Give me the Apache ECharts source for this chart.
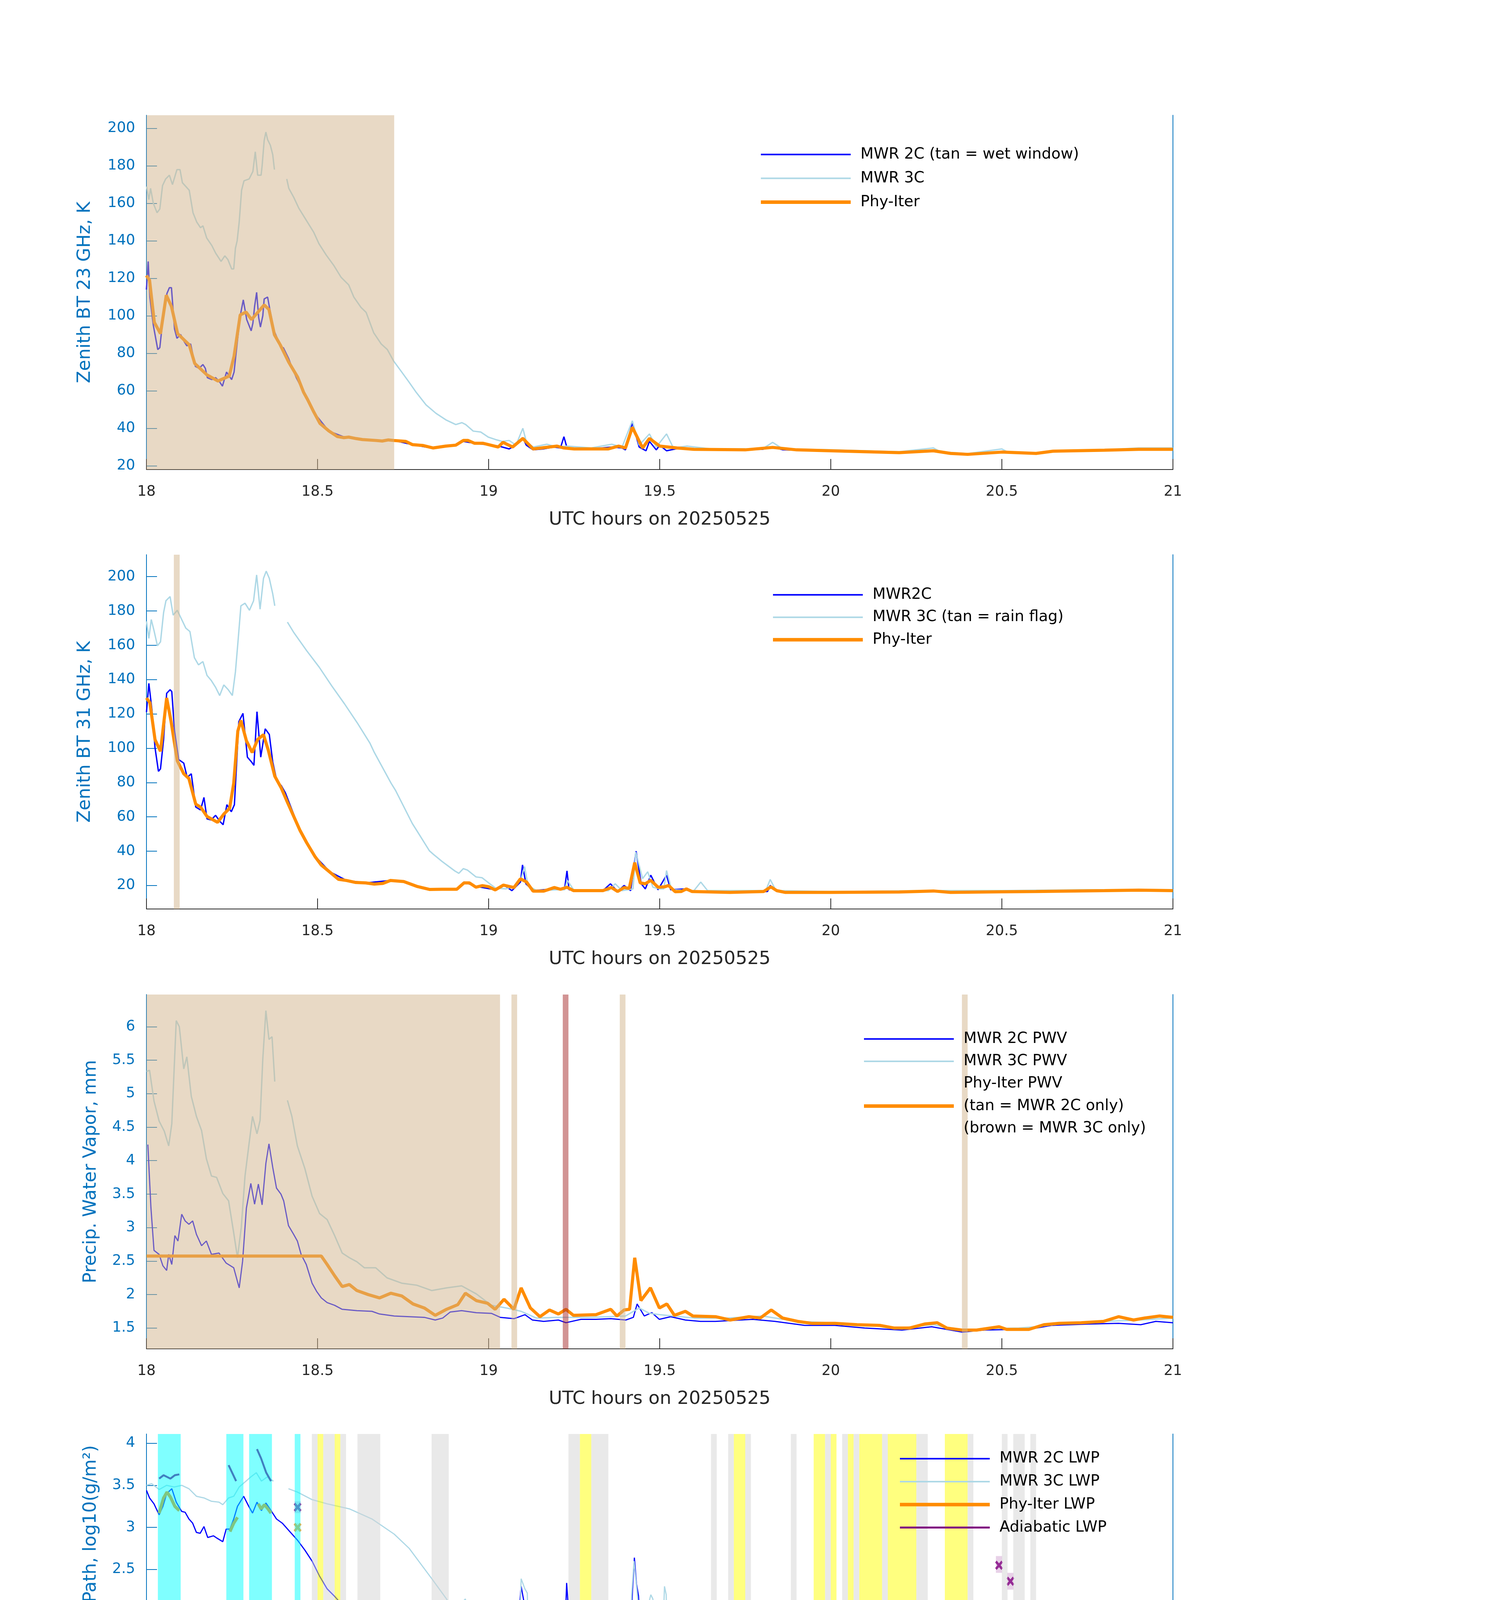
<!DOCTYPE html>
<html>
<head>
<meta charset="utf-8">
<script src="https://cdn.jsdelivr.net/npm/echarts@6/dist/echarts.min.js"></script>
<style>
  html, body { margin: 0; padding: 0; background: #fff; }
  #chart { width: 3825px; height: 6000px; }
</style>
</head>
<body>
<div id="chart"></div>
<script>
// ---- panel 1: zenith BT 23 GHz (hours, K) ----
const bt23_2c = [[18.000,114],[18.005,129],[18.010,110],[18.020,95],[18.033,82],[18.039,83],[18.049,100],[18.060,112],[18.067,115],[18.073,115],[18.082,93],[18.089,88],[18.100,90],[18.111,86],[18.118,84],[18.129,85],[18.143,73],[18.154,72],[18.165,74],[18.172,72],[18.178,67],[18.191,66],[18.202,67],[18.213,65],[18.222,62.5],[18.234,70],[18.249,66],[18.256,70],[18.263,82],[18.274,100],[18.283,108.5],[18.293,98],[18.306,92],[18.311,96],[18.316,105],[18.322,112.5],[18.328,99],[18.333,94],[18.340,100],[18.344,109],[18.354,110],[18.360,104],[18.373,92],[18.394,83],[18.400,83],[18.416,77],[18.424,73],[18.438,67],[18.459,59.5],[18.489,48.5],[18.533,38.5],[18.576,35.5],[18.631,34.3],[18.689,33.2],[18.723,33.5],[18.777,31.3],[18.838,29.3],[18.904,31],[18.926,33],[18.959,32],[19.006,31],[19.03,30.5],[19.06,29],[19.08,31],[19.10,35],[19.11,31],[19.13,28.5],[19.16,29],[19.19,30],[19.21,29.5],[19.22,35.5],[19.23,29],[19.30,29],[19.36,30],[19.39,29.5],[19.40,28.5],[19.42,43],[19.44,30],[19.46,28],[19.47,33],[19.49,28.5],[19.50,31],[19.52,28],[19.56,29.5],[19.60,28.8],[19.70,28.5],[19.80,28.8],[19.83,30],[19.86,28.5],[20.00,28],[20.10,27.5],[20.20,27],[20.30,27.8],[20.35,26.5],[20.40,26],[20.50,27],[20.60,26.5],[20.65,27.5],[20.80,28.2],[20.90,28.7],[21.00,28.7]];
const bt23_3c = [[18.000,169],[18.007,162],[18.012,168],[18.020,160],[18.031,155],[18.039,157],[18.047,169.5],[18.056,173],[18.067,175],[18.076,170],[18.089,178],[18.098,178],[18.105,171],[18.125,167],[18.136,155],[18.147,150],[18.158,147],[18.165,148],[18.176,141.5],[18.191,137.5],[18.202,133.5],[18.218,129],[18.229,132],[18.238,130],[18.249,125],[18.255,125],[18.260,136],[18.265,140],[18.271,150],[18.278,167],[18.285,172],[18.300,173],[18.311,177],[18.318,187.5],[18.325,175],[18.335,175],[18.338,180],[18.344,193.5],[18.349,198],[18.354,194],[18.362,191],[18.369,186],[18.374,178],[18.390,'-'],[18.410,173],[18.416,168],[18.431,163],[18.445,157.5],[18.467,151],[18.489,144.5],[18.504,138.5],[18.525,132.5],[18.547,127],[18.569,120.5],[18.591,116.5],[18.606,110],[18.627,104.5],[18.642,101.8],[18.664,91],[18.686,85],[18.704,82],[18.722,76],[18.744,70.5],[18.766,65],[18.787,59.5],[18.817,52.5],[18.846,48],[18.875,44.5],[18.904,42],[18.922,43],[18.933,42],[18.955,38.5],[18.977,38],[18.999,35.3],[19.02,34],[19.04,33],[19.06,33.5],[19.08,31],[19.10,40],[19.11,33],[19.13,30],[19.17,31.5],[19.20,30],[19.23,30.5],[19.30,29.5],[19.36,31.5],[19.39,30],[19.42,44],[19.44,31],[19.47,37],[19.49,30],[19.52,37],[19.54,29.5],[19.58,30.5],[19.65,29],[19.80,29],[19.83,32.5],[19.86,29],[20.00,28.5],[20.20,27.5],[20.30,29.5],[20.32,27.5],[20.40,26.5],[20.50,29],[20.52,27],[20.60,27],[20.70,28],[20.85,29],[20.90,29.5],[21.00,29.5]];
const bt23_phy = [[18.000,121.5],[18.009,119],[18.023,96.5],[18.041,90.5],[18.058,111],[18.073,105],[18.091,90.5],[18.125,84.5],[18.141,74.6],[18.176,68.6],[18.209,65.2],[18.242,67.9],[18.256,78.5],[18.274,100.5],[18.291,102],[18.307,98],[18.344,105.8],[18.358,103.4],[18.374,89.9],[18.391,84.5],[18.416,75.2],[18.442,67.2],[18.459,59.3],[18.471,55.3],[18.489,48.7],[18.507,42.6],[18.533,38.6],[18.558,35.6],[18.576,35],[18.591,35.3],[18.613,34.5],[18.631,34],[18.671,33.5],[18.689,33.2],[18.707,33.8],[18.723,33.5],[18.758,33],[18.777,31.3],[18.809,30.8],[18.838,29.5],[18.875,30.5],[18.904,31],[18.926,33.5],[18.940,33.5],[18.959,32],[18.984,32],[19.006,31],[19.028,30],[19.042,32.5],[19.07,30],[19.10,34.6],[19.13,29],[19.20,30.5],[19.22,29.5],[19.25,29],[19.35,29],[19.38,30.5],[19.40,29.5],[19.42,40.5],[19.45,29.5],[19.47,34.6],[19.50,30.5],[19.55,29.5],[19.60,28.8],[19.75,28.5],[19.83,29.8],[19.90,28.5],[20.00,28],[20.20,27],[20.30,28],[20.35,26.6],[20.40,26.1],[20.50,27.3],[20.60,26.6],[20.65,27.8],[20.80,28.3],[20.90,28.8],[21.00,28.8]];

// ---- panel 2: zenith BT 31 GHz (hours, K) ----
const bt31_2c = [[18.000,121],[18.007,137.8],[18.016,122.4],[18.025,100.3],[18.035,86.5],[18.041,88],[18.050,105],[18.059,132],[18.069,134.1],[18.074,133],[18.082,110],[18.094,93.4],[18.109,91.3],[18.119,83],[18.131,85.1],[18.144,65.7],[18.158,64],[18.168,71.3],[18.177,58.8],[18.189,58.2],[18.202,60.9],[18.214,57.5],[18.224,55.4],[18.235,67.1],[18.248,63],[18.257,67.1],[18.270,115.5],[18.282,120.3],[18.295,94.8],[18.307,92],[18.314,90],[18.323,121.3],[18.334,94.8],[18.347,111.3],[18.359,108],[18.369,92],[18.381,81],[18.394,78.2],[18.406,74],[18.418,67.8],[18.449,52],[18.493,37],[18.536,28],[18.585,22.9],[18.641,21.5],[18.713,22.9],[18.752,22.3],[18.790,19.5],[18.827,17.7],[18.907,18],[18.928,22],[18.963,19.5],[19.019,17.5],[19.043,20.5],[19.068,17],[19.093,22],[19.099,32],[19.109,21],[19.130,17],[19.192,18],[19.222,18],[19.229,28.5],[19.235,17.5],[19.334,17],[19.356,21],[19.377,16.5],[19.396,20],[19.415,17],[19.431,40],[19.446,21],[19.458,18],[19.474,26],[19.495,17.5],[19.520,26],[19.532,17.5],[19.578,18],[19.594,16.5],[19.705,16],[19.815,16.5],[19.823,20],[19.842,16.5],[19.913,16],[20.00,16],[20.30,16.5],[20.50,16.5],[20.75,17],[21.00,17.5]];
const bt31_3c = [[18.000,174],[18.007,164],[18.014,175],[18.022,168.6],[18.032,159.7],[18.041,162],[18.050,179],[18.057,186],[18.069,188.4],[18.078,177.6],[18.090,180.4],[18.103,175],[18.115,170],[18.127,168],[18.140,152.8],[18.152,148.6],[18.165,150.5],[18.177,142.4],[18.189,139.6],[18.202,135.5],[18.214,130.7],[18.226,136.9],[18.239,134.1],[18.251,130.7],[18.260,144.5],[18.267,161],[18.276,183],[18.288,184.5],[18.301,180.4],[18.313,185.9],[18.322,201],[18.332,181],[18.342,199],[18.350,203.2],[18.359,199],[18.369,190],[18.375,183],[18.390,'-'],[18.412,173.5],[18.431,167.3],[18.468,156.9],[18.505,147.2],[18.542,136.2],[18.579,125.8],[18.616,114.8],[18.653,103],[18.666,97.5],[18.715,79.6],[18.728,75.4],[18.777,56.1],[18.790,52],[18.827,40.2],[18.839,38.1],[18.864,34],[18.901,28.5],[18.913,27.1],[18.926,29.8],[18.938,29],[18.963,25],[18.981,24.5],[19.000,21.5],[19.020,18.5],[19.050,18],[19.080,20],[19.095,24],[19.105,31],[19.115,20],[19.140,17],[19.200,17.5],[19.222,17.5],[19.230,23],[19.250,17],[19.350,17],[19.370,21],[19.390,17],[19.422,18],[19.430,39.5],[19.450,24],[19.465,28],[19.480,19],[19.500,18],[19.512,18],[19.520,28.7],[19.535,17.5],[19.600,17],[19.620,22],[19.640,17],[19.810,17],[19.823,23.5],[19.840,17],[20.00,16.5],[20.30,17],[20.50,17],[20.75,17.5],[21.00,17.5]];
const bt31_phy = [[18.000,129.3],[18.010,126.5],[18.025,105],[18.041,98.2],[18.059,129.3],[18.072,115.5],[18.090,92.7],[18.109,85.1],[18.124,82.3],[18.144,67.4],[18.158,65.7],[18.177,60.2],[18.208,56.8],[18.226,61.6],[18.243,65],[18.255,79.6],[18.267,110],[18.276,116.2],[18.292,104.4],[18.309,97.5],[18.325,105.1],[18.342,107.9],[18.356,98.9],[18.375,83.7],[18.394,76.8],[18.412,68.5],[18.431,60],[18.449,52],[18.468,45],[18.493,36.7],[18.511,31.9],[18.536,27.8],[18.561,23.6],[18.585,22.9],[18.610,21.8],[18.641,21.5],[18.666,20.8],[18.691,21.2],[18.713,22.9],[18.752,22.3],[18.790,19.5],[18.827,17.7],[18.864,17.8],[18.907,17.8],[18.928,21.5],[18.944,21.5],[18.963,19],[18.981,19.9],[19.000,19.3],[19.019,17.4],[19.043,20.2],[19.074,18.8],[19.093,23.9],[19.111,22],[19.130,16.7],[19.161,16.7],[19.192,18.8],[19.210,17.8],[19.229,19],[19.248,17],[19.334,17],[19.359,18.8],[19.377,16.5],[19.396,18.8],[19.411,18.3],[19.427,33.3],[19.443,21.5],[19.458,21],[19.474,23],[19.495,19],[19.514,19.2],[19.526,20],[19.545,16.4],[19.563,16.5],[19.578,18],[19.594,16.5],[19.705,16],[19.804,16.5],[19.825,19.2],[19.842,17],[19.866,16],[19.913,16],[20.00,16],[20.20,16.2],[20.30,16.8],[20.35,16],[20.50,16.3],[20.60,16.5],[20.80,17],[20.90,17.3],[21.00,17]];

// ---- panel 3: precipitable water vapour (hours, mm) ----
const pwv_2c = [[18.004,4.24],[18.013,3.3],[18.022,2.66],[18.037,2.6],[18.048,2.43],[18.059,2.36],[18.065,2.6],[18.074,2.45],[18.083,2.88],[18.092,2.8],[18.103,3.2],[18.113,3.1],[18.124,3.05],[18.135,3.1],[18.146,2.9],[18.161,2.73],[18.175,2.8],[18.190,2.6],[18.212,2.62],[18.233,2.47],[18.255,2.4],[18.271,2.1],[18.281,2.5],[18.292,3.29],[18.305,3.66],[18.316,3.35],[18.327,3.65],[18.338,3.34],[18.349,3.96],[18.358,4.25],[18.369,3.9],[18.380,3.59],[18.393,3.5],[18.401,3.4],[18.415,3.03],[18.430,2.9],[18.441,2.8],[18.452,2.6],[18.467,2.45],[18.484,2.17],[18.497,2.05],[18.511,1.95],[18.528,1.88],[18.550,1.84],[18.572,1.78],[18.615,1.76],[18.659,1.75],[18.681,1.71],[18.724,1.68],[18.768,1.67],[18.812,1.66],[18.844,1.62],[18.866,1.65],[18.888,1.74],[18.921,1.76],[18.964,1.73],[19.008,1.72],[19.034,1.66],[19.074,1.64],[19.106,1.70],[19.128,1.62],[19.161,1.6],[19.204,1.62],[19.226,1.58],[19.270,1.63],[19.314,1.63],[19.357,1.64],[19.401,1.62],[19.423,1.66],[19.434,1.86],[19.455,1.68],[19.477,1.73],[19.499,1.63],[19.532,1.67],[19.575,1.62],[19.619,1.6],[19.663,1.6],[19.772,1.63],[19.837,1.6],[19.924,1.54],[20.012,1.54],[20.099,1.5],[20.208,1.47],[20.295,1.52],[20.383,1.44],[20.448,1.47],[20.535,1.48],[20.601,1.5],[20.645,1.54],[20.754,1.56],[20.841,1.57],[20.906,1.55],[20.950,1.6],[21.000,1.58]];
const pwv_3c = [[18.000,5.33],[18.009,5.35],[18.022,4.89],[18.037,4.59],[18.052,4.44],[18.065,4.22],[18.074,4.55],[18.087,6.09],[18.096,6.0],[18.109,5.37],[18.118,5.55],[18.131,4.96],[18.146,4.66],[18.161,4.45],[18.175,4.03],[18.190,3.77],[18.205,3.75],[18.223,3.51],[18.240,3.4],[18.255,2.92],[18.266,2.55],[18.277,3.0],[18.288,3.77],[18.299,4.22],[18.310,4.66],[18.323,4.4],[18.332,4.6],[18.340,5.52],[18.349,6.24],[18.358,5.81],[18.367,5.85],[18.375,5.18],[18.390,'-'],[18.412,4.9],[18.425,4.66],[18.441,4.22],[18.463,3.88],[18.484,3.47],[18.506,3.21],[18.528,3.12],[18.550,2.88],[18.572,2.62],[18.593,2.55],[18.615,2.49],[18.637,2.4],[18.670,2.4],[18.703,2.25],[18.746,2.17],[18.790,2.14],[18.834,2.06],[18.877,2.1],[18.921,2.13],[18.964,2.01],[19.008,1.84],[19.052,1.8],[19.095,1.75],[19.139,1.65],[19.20,1.66],[19.30,1.66],[19.40,1.68],[19.44,1.8],[19.47,1.72],[19.50,1.7],[19.60,1.65],[19.70,1.65],[19.80,1.68],[19.90,1.6],[20.00,1.58],[20.10,1.55],[20.20,1.5],[20.30,1.55],[20.38,1.46],[20.45,1.49],[20.55,1.5],[20.60,1.52],[20.70,1.58],[20.80,1.6],[20.90,1.62],[21.00,1.65]];
const pwv_phy = [[18.000,2.575],[18.511,2.575],[18.528,2.45],[18.550,2.28],[18.572,2.12],[18.593,2.15],[18.615,2.06],[18.648,2.0],[18.681,1.95],[18.714,2.02],[18.746,1.98],[18.779,1.86],[18.812,1.8],[18.844,1.69],[18.877,1.78],[18.910,1.85],[18.932,2.02],[18.964,1.91],[18.997,1.87],[19.019,1.78],[19.045,1.93],[19.074,1.78],[19.095,2.1],[19.122,1.8],[19.150,1.67],[19.178,1.77],[19.204,1.71],[19.226,1.78],[19.248,1.69],[19.314,1.7],[19.357,1.78],[19.375,1.68],[19.396,1.77],[19.412,1.78],[19.427,2.55],[19.445,1.91],[19.473,2.1],[19.499,1.8],[19.521,1.86],[19.543,1.69],[19.575,1.75],[19.597,1.68],[19.663,1.67],[19.706,1.62],[19.761,1.67],[19.794,1.65],[19.826,1.77],[19.859,1.65],[19.903,1.6],[19.946,1.57],[20.012,1.57],[20.077,1.55],[20.143,1.54],[20.186,1.5],[20.230,1.5],[20.274,1.56],[20.311,1.58],[20.339,1.5],[20.383,1.47],[20.426,1.47],[20.492,1.52],[20.514,1.48],[20.579,1.48],[20.623,1.55],[20.667,1.57],[20.732,1.58],[20.797,1.6],[20.841,1.67],[20.885,1.62],[20.917,1.65],[20.961,1.68],[21.000,1.66]];

// ---- panel 4: log10 liquid water path (hours, log10 g/m2) ----
const lwp_2c = [[18.000,3.44],[18.009,3.35],[18.022,3.28],[18.037,3.15],[18.048,3.25],[18.059,3.4],[18.074,3.46],[18.087,3.3],[18.103,3.19],[18.113,3.18],[18.124,3.1],[18.135,3.05],[18.146,2.94],[18.157,2.93],[18.168,3.01],[18.179,2.88],[18.196,2.9],[18.207,2.87],[18.223,2.83],[18.233,2.98],[18.244,2.98],[18.255,3.1],[18.266,3.25],[18.284,3.37],[18.299,3.25],[18.310,3.17],[18.323,3.3],[18.336,3.2],[18.349,3.29],[18.364,3.2],[18.380,3.1],[18.397,3.05],[18.419,2.95],[18.441,2.85],[18.463,2.73],[18.484,2.6],[18.506,2.42],[18.528,2.27],[18.550,2.18],[18.572,2.08],[18.593,2.1],[18.611,1.98],[18.626,1.95],[18.648,1.9],[18.670,1.86],[18.692,1.95],[18.707,2.05],[18.724,2.05],[18.742,2.09],[18.757,2.0],[18.772,1.86],[18.790,1.77],[18.801,1.65],[18.812,1.7],[18.823,1.52],[18.834,1.38],[18.844,1.42],[18.855,1.45],[18.866,1.53],[18.877,1.36],[18.888,1.18],[18.899,1.28],[18.910,1.2],[18.921,1.18],[18.927,1.9],[18.936,1.97],[18.945,1.9],[18.956,1.63],[18.967,1.7],[18.978,1.6],[18.986,1.98],[18.995,1.85],[19.006,1.35],[19.017,1.25],[19.026,1.1],[19.036,2.0],[19.045,1.75],[19.054,2.0],[19.065,1.4],[19.076,1.05],[19.087,1.9],[19.095,2.3],[19.104,2.1],
  [19.113,2.08],[19.119,1.63],[19.125,0.84],[19.132,0.91],[19.140,0.90],[19.145,0.77],[19.153,0.95],[19.158,1.01],[19.163,1.15],[19.169,1.18],[19.172,1.01],[19.177,1.64],[19.185,1.70],[19.190,1.87],[19.193,1.49],[19.200,1.82],[19.206,1.49],[19.210,1.56],[19.214,1.32],[19.222,1.63],[19.228,2.34],[19.232,2.10],[19.237,1.12],[19.243,1.39],[19.249,0.70],[19.255,1.07],[19.262,1.12],[19.268,1.12],[19.274,1.07],[19.280,0.87],[19.286,1.18],[19.292,1.12],[19.299,1.18],[19.305,1.01],[19.317,1.13],[19.330,1.12],[19.339,0.95],[19.348,1.51],[19.356,2.03],[19.361,1.54],[19.367,1.35],[19.373,0.98],[19.379,0.84],[19.385,1.07],[19.390,1.66],[19.395,1.95],[19.400,1.04],[19.408,1.04],[19.413,1.46],[19.420,2.22],[19.426,2.64],[19.432,2.33],[19.438,2.19],[19.445,1.63],[19.451,1.15],[19.457,1.23],[19.463,1.63],[19.469,2.13],[19.476,2.05],[19.482,2.09],[19.488,2.02],[19.492,1.35],[19.497,0.70],[19.503,1.35],[19.509,1.68],[19.515,2.02],[19.521,2.08],[19.528,1.15],[19.534,1.37],[19.540,1.12],[19.546,0.95],[19.552,1.21],[19.556,0.60],[19.561,1.18],[19.566,1.07],[19.571,1.35],[19.577,1.70],[19.583,1.21],[19.589,1.15],[19.596,1.09],[19.602,1.01],[19.608,0.92],[19.613,0.61],[19.618,0.29],[19.623,0.78],[19.629,1.15],[19.635,0.98],[19.641,0.87],[19.648,0.70],[19.654,1.09],[19.660,1.01],[19.666,1.04],[19.672,1.04],[19.676,1.01],[19.682,0.60],[19.688,0.64],[19.695,0.98],[19.701,1.11],[19.707,0.78],[19.713,1.04],[19.719,0.98],[19.726,0.85],[19.732,0.98],[19.738,1.00],[19.744,1.00],[19.750,0.92],[19.757,0.84],[19.763,0.92],[19.769,1.12],[19.774,1.18],[19.779,1.01],[19.784,1.00],[19.791,1.12],[19.797,1.18],[19.804,1.23],[19.810,1.32],[19.816,1.63],[19.822,2.10],[19.828,1.57],[19.835,1.23],[19.841,1.26],[19.846,1.16],[19.852,1.05],[19.856,1.08],[19.862,0.92],[19.868,1.12],[19.873,0.98],[19.878,0.60],[19.883,0.90],[19.889,0.90],[19.895,1.01],[19.901,1.07],[19.908,1.12],[19.915,1.18],[19.922,1.30],[19.927,1.04],[19.934,1.08],[19.940,0.95],[19.946,1.04],[19.952,0.95],[19.958,1.08],[19.967,1.09],[19.974,0.95],[19.979,0.78],[19.986,0.78],[19.992,0.92],[19.998,1.01],[20.004,0.97],[20.012,1.07],[20.016,1.32],[20.021,1.08],[20.026,1.23],[20.031,1.07],[20.036,1.12],[20.041,1.01],[20.047,1.01],[20.054,1.01],[20.060,1.12],[20.066,0.95],[20.072,0.81],[20.078,0.90],[20.085,0.78],[20.091,0.90],[20.097,0.84],[20.103,0.92],[20.109,0.84],[20.115,0.90],[20.122,1.01],[20.128,0.70],[20.134,1.01],[20.140,0.84],[20.146,0.95],[20.153,0.78],[20.158,0.60],[20.162,0.95],[20.167,0.84],[20.172,1.04],[20.177,1.12],[20.184,1.04],[20.190,1.11],[20.196,1.00],[20.202,1.01],[20.208,0.92],[20.215,1.09],[20.221,0.98],[20.227,1.12],[20.233,1.01],[20.239,0.92],[20.245,0.84],[20.252,1.04],[20.258,1.12],[20.264,1.08],[20.270,1.09],[20.276,1.01],[20.283,1.11],[20.289,1.15],[20.295,1.08],[20.301,1.40],[20.305,1.73],[20.310,1.46],[20.316,1.07],[20.322,0.95],[20.328,0.92],[20.335,0.90],[20.338,1.07],[20.344,0.95],[20.351,0.70],[20.357,1.04],[20.363,0.78],[20.369,0.92],[20.375,0.98],[20.382,0.90],[20.388,0.70],[20.393,0.47],[20.400,0.90],[20.406,0.84],[20.412,0.84],[20.419,0.90],[20.425,1.01],[20.431,0.84],[20.437,0.84],[20.443,1.21],[20.448,1.46],[20.455,1.50],[20.460,1.04],[20.466,0.84],[20.472,0.84],[20.478,1.07],[20.484,1.26],[20.489,1.51],[20.493,1.75],[20.498,1.51],[20.503,1.01],[20.508,0.78],[20.514,1.01],[20.520,1.12],[20.526,1.26],[20.533,0.98],[20.539,0.95],[20.545,1.07],[20.550,1.18],[20.556,0.98],[20.563,0.95],[20.571,1.01],[20.580,1.04],[20.586,0.98],[20.592,0.90],[20.598,0.92],[20.604,0.84],[20.610,0.84],[20.617,0.98],[20.623,1.04],[20.629,0.92],[20.635,1.04],[20.644,1.30],[20.651,1.12],[20.658,0.92],[20.664,0.47],[20.670,0.95],[20.676,0.92],[20.682,0.84],[20.689,1.09],[20.695,0.98],[20.701,1.12],[20.707,0.84],[20.713,1.04],[20.719,1.01],[20.726,0.95],[20.732,1.12],[20.738,0.92],[20.744,0.70],[20.750,0.98],[20.757,1.04],[20.763,1.01],[20.769,1.12],[20.775,1.04],[20.781,1.07],[20.788,1.01],[20.794,1.09],[20.801,1.23],[20.807,1.21],[20.812,1.15],[20.818,1.09],[20.825,1.04],[20.831,1.07],[20.837,1.23],[20.843,1.37],[20.849,1.35],[20.856,1.23],[20.862,1.21],[20.868,0.90],[20.874,0.92],[20.880,0.95],[20.886,0.95],[20.893,1.07],[20.898,1.23],[20.904,1.12],[20.910,0.92],[20.915,0.92],[20.920,1.26],[20.925,1.43],[20.930,1.01],[20.936,1.01],[20.942,1.12],[20.948,1.37],[20.955,1.49],[20.961,1.59],[20.967,1.43],[20.973,1.51],[20.979,1.35],[20.986,1.35],[20.992,1.37],[20.998,1.39],[21.000,1.21]];
const lwp_3c = [[18.000,3.5],[18.015,3.52],[18.037,3.45],[18.059,3.5],[18.081,3.48],[18.103,3.5],[18.124,3.46],[18.146,3.37],[18.168,3.35],[18.190,3.31],[18.212,3.3],[18.223,3.27],[18.240,3.35],[18.255,3.37],[18.271,3.48],[18.288,3.54],[18.305,3.6],[18.321,3.65],[18.336,3.55],[18.353,3.6],[18.371,3.55],[18.380,'-'],[18.415,3.46],[18.441,3.42],[18.484,3.33],[18.528,3.28],[18.593,3.22],[18.659,3.1],[18.724,2.92],[18.768,2.75],[18.801,2.57],[18.834,2.39],[18.877,2.15],[18.910,1.89],[18.921,2.1],[18.932,2.15],[18.943,1.92],[18.954,1.83],[18.965,1.62],[18.975,1.98],[18.986,1.89],[18.997,1.59],[19.008,1.15],[19.019,1.09],[19.030,0.67],[19.041,0],[19.074,0],[19.084,0.8],[19.095,2.39],[19.106,2.27],
  [19.113,2.22],[19.119,1.2],[19.125,0.1],[19.130,0],[19.136,0.05],[19.140,0],[19.147,0.2],[19.153,0.36],[19.160,0.81],[19.165,0.1],[19.170,0],[19.175,1.4],[19.181,1.68],[19.187,1.5],[19.192,1.0],[19.197,1.85],[19.202,1.4],[19.207,1.0],[19.212,1.05],[19.217,1.7],[19.224,2.05],[19.230,1.6],[19.234,0.8],[19.239,0.5],[19.244,0.2],[19.249,0.5],[19.254,0.55],[19.259,0.2],[19.264,0.55],[19.269,0.45],[19.274,0.1],[19.279,0.5],[19.285,0.7],[19.290,0.3],[19.296,0.6],[19.302,0.2],[19.308,0.45],[19.314,0.1],[19.320,0.5],[19.326,0.8],[19.332,0.3],[19.338,0.6],[19.344,1.2],[19.352,1.87],[19.358,1.4],[19.363,0.6],[19.368,0.3],[19.373,0.64],[19.379,1.0],[19.384,0.5],[19.389,1.2],[19.395,1.6],[19.400,0.9],[19.406,0.6],[19.412,1.3],[19.418,2.2],[19.425,2.6],[19.431,2.35],[19.437,2.1],[19.443,1.4],[19.449,0.85],[19.455,1.2],[19.462,1.8],[19.468,2.1],[19.474,2.2],[19.480,2.15],[19.486,1.9],[19.491,1.0],[19.496,0.6],[19.502,1.0],[19.508,1.6],[19.514,2.3],[19.519,2.2],[19.526,0.9],[19.532,0.5],[19.538,0.1],[19.544,0.7],[19.550,0.4],[19.555,0.1],[19.561,0.9],[19.567,1.1],[19.572,1.6],[19.577,1.85],[19.582,0.9],[19.588,0.6],[19.594,0.2],[19.600,0.4],[19.606,0],[19.611,0.5],[19.616,0.1],[19.621,1.1],[19.627,0.6],[19.633,0.3],[19.639,0.8],[19.645,0.1],[19.650,0],[19.656,0.6],[19.662,0.35],[19.668,0.7],[19.674,0.2],[19.680,0.5],[19.686,0.1],[19.692,0.8],[19.698,0.4],[19.704,0.1],[19.710,0.3],[19.716,0.05],[19.722,0.35],[19.728,0.1],[19.734,0.3],[19.740,0.05],[19.746,0.4],[19.752,0.15],[19.758,0.7],[19.764,0.3],[19.770,0.55],[19.776,0.9],[19.782,0.4],[19.788,0.7],[19.794,1.0],[19.800,0.6],[19.806,0.9],[19.812,1.3],[19.818,1.75],[19.822,2.05],[19.828,1.7],[19.834,0.8],[19.840,0.5],[19.846,0.2],[19.852,0.6],[19.858,0.15],[19.864,0.5],[19.870,0.1],[19.876,0.7],[19.882,0.3],[19.888,0.05],[19.894,0.5],[19.900,0.2],[19.906,0.7],[19.912,0.3],[19.918,0.87],[19.924,0.4],[19.928,0],[19.946,0],[19.950,0.4],[19.956,0.1],[19.962,0.6],[19.968,0.2],[19.974,0.5],[19.980,0.1],[19.986,0.35],[19.992,0.6],[19.998,0.2],[20.004,0.5],[20.010,0.9],[20.016,1.0],[20.022,0.4],[20.028,0.1],[20.034,0.6],[20.040,0.25],[20.046,0.8],[20.052,1.8],[20.058,1.0],[20.064,0.4],[20.070,0.1],[20.076,0.5],[20.082,0.2],[20.088,0.05],[20.094,0.55],[20.100,0.15],[20.106,0.45],[20.112,0.05],[20.118,0.6],[20.124,0.2],[20.130,0.4],[20.136,1.0],[20.142,0.3],[20.148,0.1],[20.154,0.5],[20.160,0.15],[20.166,0.6],[20.172,0.3],[20.178,0.9],[20.184,1.3],[20.190,1.85],[20.196,1.5],[20.202,0.6],[20.208,0.2],[20.214,0.6],[20.220,0.1],[20.226,0.5],[20.232,0.15],[20.238,0.7],[20.244,0.3],[20.250,0.45],[20.256,0.1],[20.262,0.6],[20.268,0.2],[20.274,0.5],[20.280,0.8],[20.286,0.3],[20.292,0.2],[20.298,1.2],[20.303,1.6],[20.308,1.3],[20.313,0.5],[20.318,0],[20.374,0],[20.380,0.3],[20.388,0],[20.425,0],[20.432,0.4],[20.437,0.9],[20.443,1.23],[20.449,1.0],[20.455,0.4],[20.461,0.1],[20.467,0.5],[20.473,0.2],[20.479,0.8],[20.484,1.0],[20.489,1.45],[20.494,1.2],[20.500,0.3],[20.506,0.1],[20.512,0.6],[20.518,0.2],[20.524,0.05],[20.530,0.5],[20.536,0.8],[20.542,0.2],[20.548,0.05],[20.554,0.4],[20.560,0.1],[20.566,0.6],[20.572,0.2],[20.578,0.8],[20.584,0.3],[20.590,0.05],[20.596,0.5],[20.602,0.1],[20.608,0.4],[20.614,0.05],[20.620,0.3],[20.626,0.1],[20.632,0.6],[20.638,0.2],[20.644,0.7],[20.650,1.2],[20.656,0.8],[20.662,0.3],[20.668,0.7],[20.674,0.4],[20.680,0.9],[20.686,0.5],[20.692,1.0],[20.698,0.6],[20.704,0.3],[20.710,0.9],[20.716,0.5],[20.722,1.1],[20.728,0.7],[20.734,0.4],[20.740,1.0],[20.746,0.6],[20.752,0.9],[20.758,1.2],[20.764,0.7],[20.770,1.0],[20.776,0.5],[20.782,0.8],[20.788,1.1],[20.794,0.6],[20.800,0.9],[20.806,1.2],[20.812,0.8],[20.818,0.4],[20.824,1.0],[20.830,1.3],[20.837,1.57],[20.842,1.2],[20.848,0.9],[20.854,0.5],[20.860,1.0],[20.866,0.7],[20.872,0.3],[20.878,0.8],[20.884,0.5],[20.890,0.9],[20.896,0.6],[20.902,1.0],[20.908,0.7],[20.914,0.4],[20.920,0.9],[20.926,1.1],[20.932,1.2],[20.938,0.9],[20.944,1.3],[20.950,1.0],[20.956,1.2],[20.962,1.35],[20.968,1.1],[20.974,1.25],[20.980,1.3],[20.986,1.0],[20.992,1.2],[20.996,0.9],[21.000,0.56]];
const lwp_phy_line = [[18.037,3.17],[18.050,3.35],[18.060,3.42],[18.070,3.36],[18.083,3.25],[18.096,3.2],[18.100,'-'],[18.244,2.95],[18.255,3.05],[18.266,3.12],[18.280,'-'],[18.327,3.28],[18.335,3.22],[18.345,3.27],[18.355,3.22],[18.364,3.17]];
const lwp_phy_pts = [[18.4417,3.0],[20.4917,1.37],[20.525,0.66]];
const lwp_adi_line = [[18.037,3.58],[18.050,3.62],[18.060,3.6],[18.070,3.58],[18.083,3.62],[18.096,3.63],[18.100,'-'],[18.240,3.74],[18.262,3.55],[18.270,'-'],[18.323,3.93],[18.335,3.82],[18.350,3.65],[18.364,3.55]];
const lwp_adi_pts = [[18.4417,3.24],[20.4917,2.55],[20.525,2.36]];
// uncertainty ranges drawn as pale bars: [hour, low, high]
const lwp_phy_err = [[18.4417,2.95,3.05],[20.4917,1.09,1.54],[20.525,-0.13,0.70]];
const lwp_adi_err = [[18.4417,3.17,3.31],[20.4917,2.46,2.66],[20.525,2.26,2.46]];

// ---- panel 5: DQ flag, minute index k after 18:00 (plotted at k + 0.5 min) ----
const flag0 = [35,36,41,42,43,44,45,46,47,48,49,53,54,55,56,57,58,59,60,61,62,63,64,65,66,67,68,69,70,71,72,73,81,82,83,84,86,87,88,89,90,91,92,93,94,95,96,97,98,100,101,106,107,108,109,110,111,112,114,115,116,121,137,138,139,145,146,147,148,149,151,154,156,157,158,159,160,161,162,163,164,165,166,167,168,169,170,171,172,173,174,175,176,177,178,179,180];
const flag3 = [34,80,135,136,144,155];
const flag4 = [29,31,32,37,38,39,40,50,51,52,74,75,78,79,99,102,105,113,119,122,124,129,150,152,153];
const flag5 = [30,33,76,77,103,104,117,118,120,123,125,126,127,128,130,131,132,133,134,140,141,142,143];
const flag6 = [0,1,2,3,4,5,6,7,8,9,10,11,12,13,14,15,16,17,18,19,20,21,22,23,24,25,26,27,28,29,30];
const flag7 = [0,1,2,3,4,5,6,7,8,9,10,11,12,13,14,15,16,17,18,19,20,21,22,23,24,25,26,27,28,29,30,31,85];
const flag9 = [3,4,5,15,16,18,19,20];
const flag10 = [4,5,15,16,18,20,21];
const flag11 = [2,3,4,5,14,15,19,20,21,26];

// ---- shaded windows (hours) ----
const p1Tan = [[18.0, 18.724]];
const p2Tan = [[18.080, 18.097]];
const p3Tan = [[18.0, 19.0333], [19.0667, 19.0833], [19.3833, 19.4], [20.3833, 20.4]];
const p3Brown = [[19.2167, 19.2333]];

// ---- axis ticks ----
const yTicks1 = [20, 40, 60, 80, 100, 120, 140, 160, 180, 200];
const yTicks3 = [1.5, 2, 2.5, 3, 3.5, 4, 4.5, 5, 5.5, 6];
const yTicks4 = [0, 0.5, 1, 1.5, 2, 2.5, 3, 3.5, 4];
const yTicks5 = [0, 2, 4, 6, 8, 10];

const FONT = 'DejaVu Sans';
const AX_BLUE = '#0072BD';
const DARK = '#262626';
const C_2C = '#0000FF', C_3C = '#ADD8E6', C_PHY = '#FF8C00', C_ADI = '#800080';
const TAN = 'rgba(210,180,140,0.5)';
const tops = [295, 1420, 2546, 3671, 4796];
const H = 907;

// flag bands for the LWP panel: cyan = 9/10/11, yellow = 5, grey = 3/4
const cyanSet = new Set([...flag9, ...flag10, ...flag11]);
const yellowSet = new Set(flag5);
const greySet = new Set([...flag3, ...flag4]);
function bandsOf(test) {
  const spans = [];
  let start = null;
  for (let k = 0; k <= 181; k++) {
    const on = k <= 180 && test(k);
    if (on && start === null) start = k;
    if (!on && start !== null) { spans.push([18 + start / 60, 18 + k / 60]); start = null; }
  }
  return spans;
}
const p4Cyan = bandsOf(k => cyanSet.has(k));
const p4Yellow = bandsOf(k => !cyanSet.has(k) && yellowSet.has(k));
const p4Grey = bandsOf(k => !cyanSet.has(k) && !yellowSet.has(k) && greySet.has(k));

function xAxisFor(i) {
  return {
    gridIndex: i, type: 'value', min: 18, max: 21, interval: 0.5,
    name: 'UTC hours on 20250525', nameLocation: 'middle', nameGap: 105,
    nameTextStyle: { fontSize: 47, color: DARK, fontFamily: FONT },
    axisLine: { onZero: false, lineStyle: { color: DARK, width: 2 } },
    axisTick: { inside: true, length: 27, lineStyle: { color: DARK, width: 2 } },
    axisLabel: { fontSize: 37, color: DARK, margin: 39, fontFamily: FONT },
    splitLine: { show: false }
  };
}
function yAxisFor(i, min, max, ticks, name, gap) {
  return {
    gridIndex: i, type: 'value', min: min, max: max, position: 'left',
    name: name, nameLocation: 'middle', nameGap: gap, nameRotate: 90,
    nameTextStyle: { fontSize: 46, color: AX_BLUE, fontFamily: FONT },
    axisLine: { show: true, onZero: false, lineStyle: { color: AX_BLUE, width: 2 } },
    axisTick: { show: true, inside: true, length: 27, customValues: ticks, lineStyle: { color: AX_BLUE, width: 2 } },
    axisLabel: { customValues: ticks, fontSize: 37, color: AX_BLUE, margin: 29, fontFamily: FONT },
    splitLine: { show: false }
  };
}
function rightAxisFor(i, min, max) {
  return {
    gridIndex: i, type: 'value', min: min, max: max, position: 'right',
    axisLine: { show: true, onZero: false, lineStyle: { color: AX_BLUE, width: 2 } },
    axisTick: { show: false }, axisLabel: { show: false }, splitLine: { show: false }
  };
}
function line(name, i, data, color, width) {
  return {
    name: name, type: 'line', xAxisIndex: i, yAxisIndex: 2 * i, data: data,
    symbol: 'none', showSymbol: false, connectNulls: false,
    lineStyle: { color: color, width: width }, itemStyle: { color: color },
    z: 2, silent: true
  };
}
function shade(i, spans, color) {
  return {
    type: 'line', xAxisIndex: i, yAxisIndex: 2 * i, data: [], z: 5, silent: true,
    markArea: { silent: true, z: 10, itemStyle: { color: color }, data: spans.map(s => [{ xAxis: s[0] }, { xAxis: s[1] }]) }
  };
}
function errBars(i, bars, color) {
  const data = [];
  bars.forEach(b => { data.push([b[0], b[1]], [b[0], b[2]], [b[0], '-']); });
  return {
    type: 'line', xAxisIndex: i, yAxisIndex: 2 * i, data: data, symbol: 'none',
    lineStyle: { color: color, width: 16, cap: 'butt' }, z: 3, silent: true
  };
}
const X_PATH = 'path://M2,0 L5,3 L8,0 L10,2 L7,5 L10,8 L8,10 L5,7 L2,10 L0,8 L3,5 L0,2 Z';
function marks(name, i, data, color) {
  return {
    name: name, type: 'scatter', xAxisIndex: i, yAxisIndex: 2 * i, data: data,
    symbol: X_PATH, symbolSize: [20, 24], itemStyle: { color: color }, z: 4, silent: true
  };
}
// legend key: a flat bar of the given thickness centred in a 230 x 20 box
function keyIcon(t) {
  const a = 10 - t / 2, b = 10 + t / 2;
  return 'path://M0,0 L0.01,0 L0,0.01 Z M0,' + a + ' L230,' + a + ' L230,' + b + ' L0,' + b +
    ' Z M230,20 L229.99,20 L230,19.99 Z';
}
function legendAt(left, top, items, lh) {
  return {
    data: items.map(it => ({ name: it[0], icon: keyIcon(it[1]) })),
    orient: 'vertical', left: left, top: top,
    itemWidth: 230, itemHeight: 20, itemGap: 0, selectedMode: false, z: 20,
    textStyle: { fontSize: 39, fontFamily: FONT, color: '#000', lineHeight: lh, padding: [0, 0, 0, 20] }
  };
}

const flagPts = [];
[[0, flag0], [3, flag3], [4, flag4], [5, flag5], [6, flag6], [7, flag7], [9, flag9], [10, flag10], [11, flag11]]
  .forEach(([v, ks]) => ks.forEach(k => flagPts.push([18 + (k + 0.5) / 60, v])));

const P3_PHY = 'Phy-Iter PWV\n(tan = MWR 2C only)\n(brown = MWR 3C only)';

const option = {
  animation: false,
  backgroundColor: '#fff',
  textStyle: { fontFamily: FONT },
  grid: tops.map(t => ({ left: 375, width: 2628, top: t, height: H, containLabel: false })),
  xAxis: [0, 1, 2, 3, 4].map(xAxisFor),
  yAxis: [
    yAxisFor(0, 18, 207, yTicks1, 'Zenith BT 23 GHz, K', 134), rightAxisFor(0, 18, 207),
    yAxisFor(1, 6.3, 212.8, yTicks1, 'Zenith BT 31 GHz, K', 134), rightAxisFor(1, 6.3, 212.8),
    yAxisFor(2, 1.19, 6.48, yTicks3, 'Precip. Water Vapor, mm', 119), rightAxisFor(2, 1.19, 6.48),
    yAxisFor(3, -0.1, 4.11, yTicks4, 'log10 Liquid Water Path, log10(g/m²)', 119), rightAxisFor(3, -0.1, 4.11),
    yAxisFor(4, -0.5, 11.5, yTicks5, 'MWR Phy Iter DQ Flag', 107), rightAxisFor(4, -0.5, 11.5)
  ],
  legend: [
    legendAt(1943, 360, [['MWR 2C (tan = wet window)', 4], ['MWR 3C', 4], ['Phy-Iter', 9]], 61),
    legendAt(1974, 1489, [['MWR2C', 4], ['MWR 3C (tan = rain flag)', 4], ['Phy-Iter', 9]], 57.5),
    legendAt(2207, 2626, [['MWR 2C PWV', 4], ['MWR 3C PWV', 4], [P3_PHY, 9]], 57.3),
    legendAt(2299, 3700, [['MWR 2C LWP', 4], ['MWR 3C LWP', 4], ['Phy-Iter LWP', 9], ['Adiabatic LWP', 5]], 58.7)
  ],
  series: [
    line('MWR 2C (tan = wet window)', 0, bt23_2c, C_2C, 3.5),
    line('MWR 3C', 0, bt23_3c, C_3C, 3.5),
    line('Phy-Iter', 0, bt23_phy, C_PHY, 8),
    shade(0, p1Tan, TAN),

    line('MWR2C', 1, bt31_2c, C_2C, 3.5),
    line('MWR 3C (tan = rain flag)', 1, bt31_3c, C_3C, 3.5),
    line('Phy-Iter', 1, bt31_phy, C_PHY, 8),
    shade(1, p2Tan, TAN),

    line('MWR 2C PWV', 2, pwv_2c, C_2C, 3),
    line('MWR 3C PWV', 2, pwv_3c, C_3C, 3.5),
    line(P3_PHY, 2, pwv_phy, C_PHY, 8),
    shade(2, p3Tan, TAN),
    shade(2, p3Brown, 'rgba(165,42,42,0.5)'),

    line('MWR 2C LWP', 3, lwp_2c, C_2C, 3),
    line('MWR 3C LWP', 3, lwp_3c, C_3C, 3),
    line('Phy-Iter LWP', 3, lwp_phy_line, C_PHY, 8),
    line('Adiabatic LWP', 3, lwp_adi_line, C_ADI, 5),
    errBars(3, lwp_phy_err, 'rgba(255,140,0,0.18)'),
    errBars(3, lwp_adi_err, 'rgba(128,0,128,0.18)'),
    marks('Phy-Iter LWP', 3, lwp_phy_pts, C_PHY),
    marks('Adiabatic LWP', 3, lwp_adi_pts, C_ADI),
    shade(3, p4Cyan, 'rgba(0,255,255,0.5)'),
    shade(3, p4Yellow, 'rgba(255,255,0,0.5)'),
    shade(3, p4Grey, 'rgba(211,211,211,0.5)'),

    {
      type: 'scatter', xAxisIndex: 4, yAxisIndex: 8, data: flagPts,
      symbol: 'circle', symbolSize: 10, itemStyle: { color: C_PHY }, silent: true
    }
  ]
};

const chart = echarts.init(document.getElementById('chart'), null, { renderer: 'canvas' });
chart.setOption(option);
</script>
</body>
</html>
